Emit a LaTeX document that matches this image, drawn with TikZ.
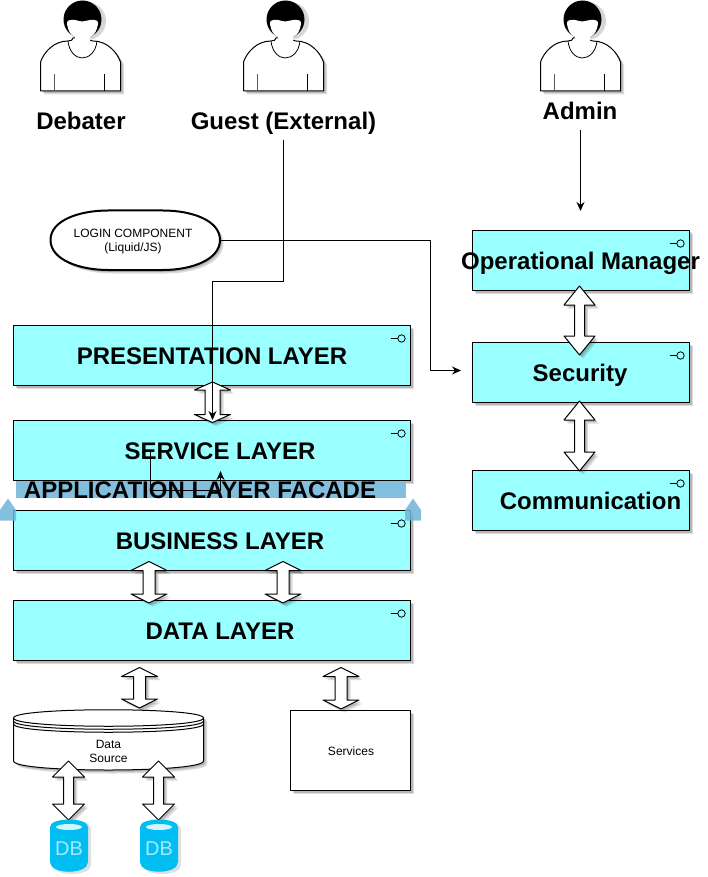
\documentclass[tikz,border=0pt]{standalone}
\usepackage{fontspec}
\setmainfont{Liberation Sans}
\usetikzlibrary{arrows.meta,shadows,shapes.geometric,calc}
\definecolor{layer}{HTML}{99FFFF}
\definecolor{band}{HTML}{82BEDD}
\definecolor{sidearrow}{HTML}{6FB5D8}
\definecolor{dbblue}{HTML}{00BEF2}
\definecolor{dblight}{HTML}{A6E9FB}
\definecolor{dbtop}{HTML}{D4F5FD}
\tikzset{
  softshadow/.style={
    drop shadow={shadow xshift=2pt,shadow yshift=-2pt,opacity=.16,fill=black},
    drop shadow={shadow xshift=3.5pt,shadow yshift=-3.5pt,opacity=.14,fill=black}},
  layerbox/.style={draw=black,fill=layer,line width=1pt,minimum height=60pt,inner sep=0pt,outer sep=0pt,softshadow},
  plainbox/.style={draw=black,fill=white,line width=1pt,inner sep=0pt,outer sep=0pt,softshadow},
  title/.style={font=\bfseries\fontsize{24}{28}\selectfont,inner sep=0pt,outer sep=0pt,text=black,anchor=base},
  small/.style={font=\fontsize{12}{14}\selectfont,align=center,inner sep=0pt,outer sep=0pt,text=black},
  dblabel/.style={font=\fontsize{20}{24}\selectfont,text=dblight,inner sep=0pt,outer sep=0pt},
  conn/.style={draw=black,line width=1pt,-{Stealth[length=9pt,width=8pt]}},
  blockarrow/.style={draw=black,fill=white,line width=1pt,softshadow},
}
% double block arrow: cx, top, bottom, head half width, head length, shaft half width
\newcommand{\dblarrow}[7][]{%
  \draw[blockarrow,#1] (#2,#3) -- (#2+#5,#3+#6) -- (#2+#7,#3+#6) -- (#2+#7,#4-#6) -- (#2+#5,#4-#6)
    -- (#2,#4) -- (#2-#5,#4-#6) -- (#2-#7,#4-#6) -- (#2-#7,#3+#6) -- (#2-#5,#3+#6) -- cycle;}
% actor drawn with its left edge at x
\newcommand{\actor}[1]{%
  \begin{scope}[xshift=#1pt]
    \fill[black!45,opacity=.35] (47,19) ++(0,2) circle (19);
    \draw[fill=white,line width=1pt,softshadow] (0.5,91) -- (0.5,62) .. controls (4,52) and (14,41) .. (28,41)
       .. controls (31,41) and (33,40) .. (33,38) -- (48,38) .. controls (48,40) and (50,41) .. (53,41)
       .. controls (67,41) and (77,52) .. (80.5,62) -- (80.5,91) -- cycle;
    \fill[black] (42.5,19.5) circle (19);
    \fill[white] (27,24) .. controls (26,21) and (30,19) .. (35,20) .. controls (38,20.5) and (40,21.5) .. (42,21.5)
       .. controls (44,21.5) and (47,20.5) .. (50,20) .. controls (55,19) and (59,21) .. (58,24)
       .. controls (57,30) and (55,35) .. (50,37) -- (50,41) -- (35,41) -- (35,37) .. controls (30,35) and (28,30) .. (27,24) -- cycle;
    \draw[line width=.8pt] (28,41) .. controls (29,52) and (36,58) .. (42,58) .. controls (49,58) and (56,52) .. (57,41);
    \draw[black!65,line width=.8pt] (14,74) -- (14,91);
    \draw[line width=.8pt] (64,74) -- (64,91);
  \end{scope}}
\newcommand{\compicon}[2]{%
  \draw[line width=.8pt] (#1-20,#2+13) -- (#1-13,#2+13);
  \draw[line width=.8pt,fill=layer] (#1-9,#2+13) circle (3.7);}
\newcommand{\dbicon}[1]{%
  \begin{scope}[xshift=#1pt]
    \fill[black,opacity=.12] (3,829) .. controls (3,818) and (41,818) .. (41,829) -- (41,865) .. controls (41,877) and (3,877) .. (3,865) -- cycle;
    \fill[dbblue] (0,827) .. controls (0,817) and (38,817) .. (38,827) -- (38,862) .. controls (38,875) and (0,875) .. (0,862) -- cycle;
    \fill[dbtop] (19,827) ellipse (13 and 3);
  \end{scope}}
\begin{document}
\begin{tikzpicture}[x=1pt,y=-1pt,line join=round]
\useasboundingbox (0,0) rectangle (707,877);
\fill[white] (0,0) rectangle (707,877);

\actor{40}\actor{243}\actor{540}

% layer boxes
\node[layerbox,minimum width=397pt,anchor=north west] (pres) at (13.5,325.5) {};
\node[layerbox,minimum width=397pt,anchor=north west] (serv) at (13.5,420.5) {};
\fill[band] (16,480) rectangle (405.5,498);
\draw[line width=1pt] (13.5,480.5) -- (410.5,480.5);
\node[layerbox,minimum width=397pt,anchor=north west] (busi) at (13.5,510.5) {};
\node[layerbox,minimum width=397pt,anchor=north west] (data) at (13.5,600.5) {};
\node[layerbox,minimum width=217pt,anchor=north west] (oper) at (472.5,230.5) {};
\node[layerbox,minimum width=217pt,anchor=north west] (secu) at (472.5,342.5) {};
\node[layerbox,minimum width=217pt,anchor=north west] (comm) at (472.5,470.5) {};
\compicon{410.5}{325.5}\compicon{410.5}{420.5}\compicon{410.5}{510.5}\compicon{410.5}{600.5}
\compicon{689.5}{230.5}\compicon{689.5}{342.5}\compicon{689.5}{470.5}

% facade side arrows
\fill[sidearrow,opacity=.85] (0,510) -- (8,498.5) -- (16,510) -- (16,520.5) -- (0,520.5) -- cycle;
\fill[sidearrow,opacity=.85] (405,510) -- (413,498.5) -- (421,510) -- (421,520.5) -- (405,520.5) -- cycle;

% login
\draw[fill=white,line width=2pt,softshadow] (50.5,240) .. controls (50.5,220) and (80,210.5) .. (108,210.5)
  -- (163,210.5) .. controls (191,210.5) and (220,220) .. (220,240)
  .. controls (220,260) and (191,270) .. (163,270) -- (108,270) .. controls (80,270) and (50.5,260) .. (50.5,240) -- cycle;
\node[small,minimum width=170pt,minimum height=60pt] (login) at (135,240) {};
\node[small] (logintext) at (133,242) {LOGIN COMPONENT\\(Liquid/JS)};

% data source and services
\node[plainbox,minimum width=120pt,minimum height=80pt,anchor=north west] (svc) at (290.5,710.5) {};
\node[small] (svctext) at (351,751.5) {Services};
\draw[fill=white,line width=1pt,softshadow] (13.5,718) .. controls (13.5,707) and (203.5,707) .. (203.5,718)
  -- (203.5,761) .. controls (203.5,773) and (13.5,773) .. (13.5,761) -- cycle;
\draw[line width=1pt] (13.5,718) .. controls (13.5,729) and (203.5,729) .. (203.5,718);
\draw[line width=1pt] (13.5,721) .. controls (13.5,732) and (203.5,732) .. (203.5,721);
\draw[line width=1pt] (13.5,724) .. controls (13.5,735) and (203.5,735) .. (203.5,724);
\coordinate (dscenter) at (108.5,751);
\node[small] (dslabel) at (dscenter) {Data\\Source};

% block arrows
\dblarrow{212.5}{382}{422.5}{18}{8}{7.5}
\dblarrow{149}{561.5}{603}{18}{9}{6}
\dblarrow{283}{561.5}{603}{18}{9}{6}
\dblarrow{139.5}{667.5}{708}{18}{9}{6}
\dblarrow{341}{667.5}{709}{18}{9}{6}
\dblarrow{68.5}{761}{820}{16}{16}{5}
\dblarrow{158.5}{761}{820}{16}{16}{5}
\dblarrow{579.5}{286}{355}{15.5}{19}{5}
\dblarrow{579.5}{401}{471}{15.5}{19}{5}

\dbicon{50}\dbicon{140}
\node[dblabel] (db1) at (69,849) {DB};
\node[dblabel] (db2) at (159,849) {DB};

% labels
\node[title] (tdeb) at (81,129.5) {Debater};
\node[title] (tgue) at (283.5,129.5) {Guest (External)};
\node[title] (tadm) at (580,119.5) {Admin};
\node[title] (tpre) at (212,364.5) {PRESENTATION LAYER};
\node[title] (tser) at (220,459.5) {SERVICE LAYER};
\node[title] (tapp) at (200,498.5) {APPLICATION LAYER FACADE};
\node[title] (tbus) at (220,549.5) {BUSINESS LAYER};
\node[title] (tdat) at (220,639.5) {DATA LAYER};
\node[title] (tope) at (580.5,269.5) {Operational Manager};
\node[title] (tsec) at (580,381.5) {Security};
\node[title] (tcom) at (590.5,509.5) {Communication};

% connectors
\coordinate (gstart) at (283.5,140);
\coordinate (gend) at (212.5,420);
\coordinate (astart) at (580.5,130);
\coordinate (aend) at (580.5,211);
\coordinate (lend) at (461,370.5);
\coordinate (sstart) at (150.5,450);
\coordinate (send) at (220.5,471);
\draw[conn] (gstart) -- (283.5,281) -- (212.5,281) -- (gend);
\draw[conn] (astart) -- (aend);
\draw[conn] (login.east) -- (430.5,240) -- (430.5,370.5) -- (lend);
\draw[conn] (sstart) -- (150.5,490.5) -- (220.5,490.5) -- (send);
\end{tikzpicture}
\end{document}
